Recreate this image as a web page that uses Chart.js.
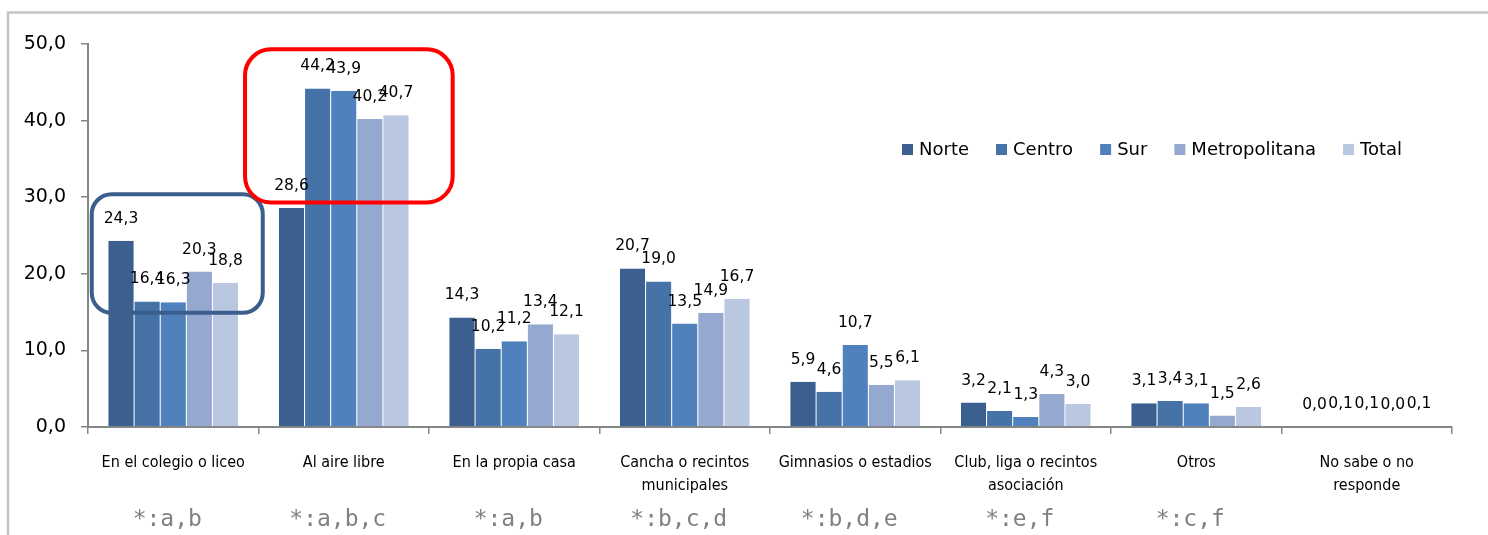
<!DOCTYPE html>
<html>
<head>
<meta charset="utf-8">
<script src="https://cdn.jsdelivr.net/npm/chart.js@4.4.1/dist/chart.umd.min.js"></script>
<style>
html,body{margin:0;padding:0;background:#fff;}
#wrap{width:1488px;height:535px;position:relative;}
</style>
</head>
<body>
<div id="wrap"><canvas id="c" width="1488" height="535"></canvas></div>
<script>
const categories = [
  "En el colegio o liceo",
  "Al aire libre",
  "En la propia casa",
  ["Cancha o recintos", "municipales"],
  "Gimnasios o estadios",
  ["Club, liga o recintos", "asociación"],
  "Otros",
  ["No sabe o no", "responde"]
];
const seriesNames = ["Norte", "Centro", "Sur", "Metropolitana", "Total"];
const norte  = [24.3, 28.6, 14.3, 20.7, 5.9, 3.2, 3.1, 0.0];
const centro = [16.4, 44.2, 10.2, 19.0, 4.6, 2.1, 3.4, 0.1];
const sur    = [16.3, 43.9, 11.2, 13.5, 10.7, 1.3, 3.1, 0.1];
const metro  = [20.3, 40.2, 13.4, 14.9, 5.5, 4.3, 1.5, 0.0];
const total  = [18.8, 40.7, 12.1, 16.7, 6.1, 3.0, 2.6, 0.1];
const notes  = ["*:a,b", "*:a,b,c", "*:a,b", "*:b,c,d", "*:b,d,e", "*:e,f", "*:c,f", ""];
const yTicks = [0, 10, 20, 30, 40, 50];

const colors = ["#3B5F8F", "#4572A7", "#4F81BD", "#95A9D0", "#BAC7E1"];
const FONT_C = "'DejaVu Sans Condensed', 'DejaVu Sans', sans-serif";
const FONT = "'DejaVu Sans', sans-serif";

// highlight boxes: category index range (fractional) and value range
const boxes = [
  {from: -0.478, to: 0.525, cat: 0, lo: 14.9, hi: 30.4, color: "#3B5E8C", r: 20},
  {from: -0.579, to: 0.639, cat: 1, lo: 29.3, hi: 49.3, color: "#FF0000", r: 26}
];

const fmt = v => v.toFixed(1).replace('.', ',');

const framePlugin = {
  id: 'frame',
  beforeDraw(chart) {
    const ctx = chart.ctx;
    ctx.save();
    ctx.fillStyle = '#fff';
    ctx.fillRect(0, 0, chart.width, chart.height);
    ctx.strokeStyle = '#C4C4C4';
    ctx.lineWidth = 2.5;
    ctx.beginPath();
    ctx.moveTo(chart.width + 5, 12.5);
    ctx.lineTo(8, 12.5);
    ctx.lineTo(8, chart.height + 5);
    ctx.stroke();
    ctx.restore();
  }
};

const labelPlugin = {
  id: 'vlabels',
  afterDatasetsDraw(chart) {
    const ctx = chart.ctx;
    ctx.save();
    ctx.font = "15.5px " + FONT;
    ctx.fillStyle = '#000';
    ctx.textAlign = 'center';
    ctx.textBaseline = 'middle';
    chart.data.datasets.forEach((ds, di) => {
      const meta = chart.getDatasetMeta(di);
      meta.data.forEach((bar, i) => {
        ctx.fillText(fmt(ds.data[i]), bar.x, bar.y - 22);
      });
    });
    ctx.restore();
  }
};

const boxPlugin = {
  id: 'boxes',
  afterDraw(chart) {
    const ctx = chart.ctx;
    const xs = chart.scales.x, ys = chart.scales.y;
    ctx.save();
    boxes.forEach(b => {
      const x1 = xs.getPixelForValue(b.cat + b.from);
      const x2 = xs.getPixelForValue(b.cat + b.to);
      const y1 = ys.getPixelForValue(b.hi);
      const y2 = ys.getPixelForValue(b.lo);
      ctx.strokeStyle = b.color;
      ctx.lineWidth = 4;
      ctx.beginPath();
      ctx.roundRect(x1, y1, x2 - x1, y2 - y1, b.r);
      ctx.stroke();
    });
    ctx.restore();
  }
};

const legendPlugin = {
  id: 'customLegend',
  afterDraw(chart) {
    const ctx = chart.ctx;
    ctx.save();
    ctx.font = "18px " + FONT;
    ctx.textBaseline = 'middle';
    ctx.textAlign = 'left';
    let x = 902;
    const y = 150;
    chart.data.datasets.forEach(ds => {
      ctx.fillStyle = ds.backgroundColor;
      ctx.fillRect(x, y - 6, 11, 11);
      ctx.fillStyle = '#000';
      ctx.fillText(ds.label, x + 17, y);
      x += 17 + ctx.measureText(ds.label).width + 27;
    });
    ctx.restore();
  }
};

const notesPlugin = {
  id: 'notes',
  afterDraw(chart) {
    const ctx = chart.ctx;
    const xs = chart.scales.x;
    ctx.save();
    ctx.font = "23px 'DejaVu Sans Mono', monospace";
    ctx.fillStyle = '#808080';
    ctx.textAlign = 'center';
    ctx.textBaseline = 'alphabetic';
    notes.forEach((n, i) => {
      if (n) ctx.fillText(n, xs.getPixelForValue(i) - 6, 526);
    });
    ctx.restore();
  }
};

const datasets = [norte, centro, sur, metro, total].map((d, i) => ({
  label: seriesNames[i],
  data: d,
  backgroundColor: colors[i],
  borderColor: 'rgba(255,255,255,0.35)',
  borderWidth: {left: 0.5, right: 0.5, top: 0, bottom: 0},
  categoryPercentage: 0.766,
  barPercentage: 1.0
}));

new Chart(document.getElementById('c'), {
  type: 'bar',
  data: { labels: categories, datasets },
  options: {
    responsive: false,
    animation: false,
    devicePixelRatio: 1,
    layout: { padding: { left: 0, right: 36, top: 44, bottom: 0 } },
    plugins: { legend: { display: false }, tooltip: { enabled: false } },
    scales: {
      x: {
        grid: { display: true, drawOnChartArea: false, drawTicks: true, tickLength: 7, color: '#868686', offset: true, lineWidth: 1.5 },
        border: { display: true, color: '#868686', width: 2 },
        ticks: { color: '#000', font: { family: FONT_C, size: 16, lineHeight: 1.45 }, padding: 17, maxRotation: 0, autoSkip: false },
        afterFit(scale) { scale.height = 108; }
      },
      y: {
        min: 0, max: 50,
        afterBuildTicks(scale) { scale.ticks = yTicks.map(v => ({ value: v })); },
        grid: { display: true, drawOnChartArea: false, drawTicks: true, tickLength: 7, color: '#868686', lineWidth: 1.5 },
        border: { display: true, color: '#868686', width: 2 },
        ticks: { color: '#000', font: { family: FONT, size: 19 }, padding: 15, callback: v => fmt(v) },
        afterFit(scale) { scale.width = 88; }
      }
    }
  },
  plugins: [framePlugin, labelPlugin, boxPlugin, legendPlugin, notesPlugin]
});
</script>
</body>
</html>
